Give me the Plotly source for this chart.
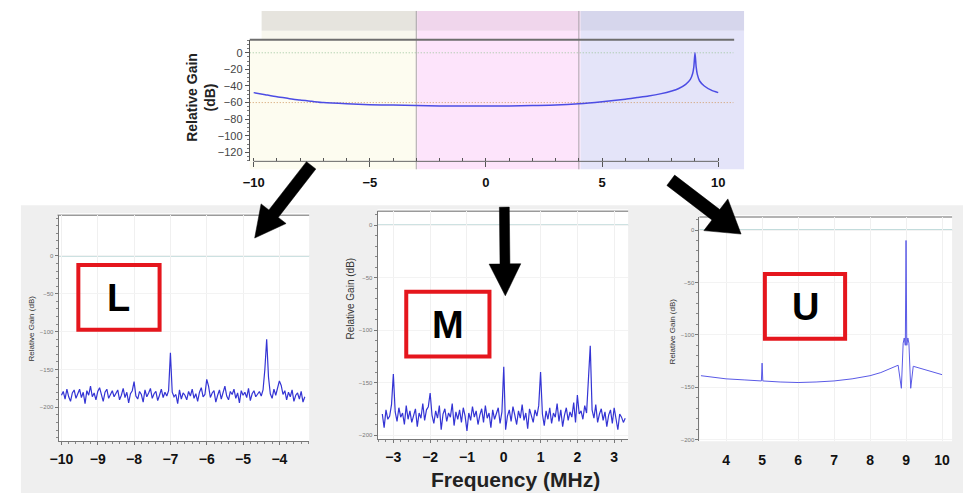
import numpy as np
import plotly.graph_objects as go

W, H = 963, 495
FONT = "Liberation Sans, Arial, sans-serif"

# ---------------- data ----------------
# Top overview: relative gain (dB) across -10..10 MHz
top_freq = [-10, -9.5, -9, -8.5, -8, -7.5, -7, -6, -5, -4, -3, -2, -1, 0, 1, 2, 3, 4, 5, 6, 6.5,
            7, 7.5, 8, 8.3, 8.6, 8.8, 8.9, 8.95, 9.0, 9.05, 9.1, 9.2, 9.4, 9.7, 10]
top_gain = [-48, -50.5, -53, -55, -57, -58.5, -60, -61.5, -62.5, -63, -63.5, -64, -64, -64, -64,
            -63.5, -63, -61.5, -59, -56, -54, -52, -49.5, -46, -43, -38, -32, -25, -17, 0, -17,
            -26, -34, -40, -45, -48]
top_ticks = [-10, -5, 0, 5, 10]
band_edges = [-3, 4]  # L | M | U boundaries (MHz)

# Lower band (L): -10 .. -3.3 MHz, bins of 0.05 MHz
L_start, L_step = -10.0, 0.05
L_gain = [
    -184, -179, -189, -176, -186, -192, -181, -177, -188, -183,
    -176, -187, -180, -195, -178, -184, -172, -186, -181, -190,
    -179, -174, -185, -192, -180, -176, -188, -183, -178, -186,
    -181, -177, -190, -184, -175, -187, -180, -194, -182, -178,
    -166, -185, -189, -179, -183, -193, -177, -186, -181, -175,
    -188, -182, -179, -191, -184, -176, -187, -180, -185, -178,
    -128, -180, -186, -183, -195, -177, -189, -181, -184, -190,
    -179, -185, -176, -188, -182, -192, -180, -174, -186, -183,
    -163, -172, -187, -181, -178, -193, -184, -177, -189, -180,
    -172, -185, -190, -179, -183, -176, -188, -181, -194, -178,
    -184, -180, -187, -175, -191, -182, -178, -186, -183, -179,
    -185, -177, -150, -110, -160, -182, -188, -176, -184, -174,
    -165, -171, -183, -178, -190, -180, -186, -177, -192, -184,
    -181, -189, -179, -193, -186,
]
L_ticks = [-10, -9, -8, -7, -6, -5, -4]

# Middle band (M): -3.3 .. 3.3 MHz, bins of 0.05 MHz
M_start, M_step = -3.3, 0.05
M_gain = [
    -180, -193, -176, -185, -182, -171, -142, -178, -187, -174,
    -183, -179, -190, -172, -185, -177, -188, -181, -175, -192,
    -179, -184, -170, -186, -176, -173, -160, -181, -189, -177,
    -184, -172, -195, -180, -175, -187, -179, -183, -170, -191,
    -178, -185, -176, -188, -174, -182, -196, -179, -186, -173,
    -183, -177, -190, -181, -175, -188, -172, -184, -179, -193,
    -176, -185, -180, -174, -189, -178, -135, -195, -182, -176,
    -187, -173, -181, -190, -177, -184, -171, -186, -179, -194,
    -175, -183, -188, -176, -182, -172, -140, -180, -191, -177,
    -185, -174, -189, -179, -183, -170, -187, -176, -192, -181,
    -174, -186, -178, -183, -169, -188, -162, -180, -177, -185,
    -172, -179, -150, -115, -176, -184, -171, -188, -180, -175,
    -186, -178, -192, -181, -176, -189, -174, -185, -195, -180,
    -183, -188, -184,
]
M_ticks = [-3, -2, -1, 0, 1, 2, 3]

# Upper band (U): 3.3 .. 10 MHz
U_freq = [3.3, 3.5, 4.0, 4.5, 4.98, 5.0, 5.02, 5.5, 6.0, 6.5, 7.0, 7.5, 8.0, 8.3, 8.6, 8.78,
          8.87, 8.92, 8.95, 8.98, 9.0, 9.02, 9.05, 9.08, 9.13, 9.2, 9.5, 10.0]
U_gain = [-139, -140, -142, -143, -144, -127, -144, -145, -145.5, -145, -144, -142, -139, -136,
          -132, -129, -151, -108, -103, -110, -10, -110, -103, -108, -151, -130, -133, -138]
U_ticks = [4, 5, 6, 7, 8, 9, 10]

low_yticks = [0, -50, -100, -150, -200]

L_freq = np.round(L_start + L_step * np.arange(len(L_gain)), 3)
M_freq = np.round(M_start + M_step * np.arange(len(M_gain)), 3)


# ---------------- helpers ----------------
def px(x):
    return x / W


def py(y):
    return 1 - y / H


def rect(x0, y0, x1, y1, fill, line=None, lw=0, layer="below"):
    return dict(type="rect", xref="paper", yref="paper", x0=px(x0), x1=px(x1), y0=py(y1), y1=py(y0),
                fillcolor=fill, line=dict(color=line or "rgba(0,0,0,0)", width=lw), layer=layer)


def pline(x0, y0, x1, y1, color, width=1, dash=None, layer="below"):
    return dict(type="line", xref="paper", yref="paper", x0=px(x0), x1=px(x1), y0=py(y0), y1=py(y1),
                line=dict(color=color, width=width, dash=dash), layer=layer)


def arrow(x0, y0, x1, y1, sw, hl, hw):
    d = np.array([x1 - x0, y1 - y0], float)
    L = np.hypot(*d)
    u = d / L
    n = np.array([-u[1], u[0]])
    t = np.array([x0, y0], float)
    tip = np.array([x1, y1], float)
    b = tip - u * hl
    pts = [t + n * sw / 2, b + n * sw / 2, b + n * hw, tip, b - n * hw, b - n * sw / 2, t - n * sw / 2]
    path = "M " + " L ".join(f"{px(p[0]):.5f},{py(p[1]):.5f}" for p in pts) + " Z"
    return dict(type="path", xref="paper", yref="paper", path=path, fillcolor="black",
                line=dict(color="black", width=0.5), layer="above")


fig = go.Figure()
blue = "#3434d4"
fig.add_trace(go.Scatter(x=top_freq, y=top_gain, mode="lines",
                         line=dict(color="#4c4ce4", width=1.5, shape="spline", smoothing=0.6),
                         xaxis="x", yaxis="y", hoverinfo="skip"))
fig.add_trace(go.Scatter(x=L_freq, y=L_gain, mode="lines", line=dict(color=blue, width=1.2),
                         xaxis="x2", yaxis="y2", hoverinfo="skip"))
fig.add_trace(go.Scatter(x=M_freq, y=M_gain, mode="lines", line=dict(color=blue, width=1.2),
                         xaxis="x3", yaxis="y3", hoverinfo="skip"))
fig.add_trace(go.Scatter(x=U_freq, y=U_gain, mode="lines", line=dict(color="#5a5ae6", width=1),
                         xaxis="x4", yaxis="y4", hoverinfo="skip"))

bold_tick = dict(family=FONT, size=14, color="#111", weight="bold")
small_tick = dict(family=FONT, size=6, color="#777")

# top axes
layout_axes = dict(
    xaxis=dict(domain=[px(243), px(741)], range=[-10.17, 11.07], anchor="y", showgrid=False,
               zeroline=False, showline=False, tickvals=top_ticks, ticks="outside", ticklen=5,
               tickcolor="#555", tickfont=dict(family=FONT, size=13, color="#111", weight="bold"),
               ticklabelstandoff=4,
               minor=dict(tickvals=list(range(-10, 11)), ticks="inside", ticklen=3, tickcolor="#555")),
    yaxis=dict(domain=[py(162), py(40)], range=[-130.8, 15.6], anchor="x", showgrid=False,
               zeroline=False, showline=True, linecolor="#555", dtick=20, tick0=0,
               ticks="outside", ticklen=4, tickcolor="#555",
               tickfont=dict(family=FONT, size=11, color="#444"),
               minor=dict(dtick=5, ticks="outside", ticklen=2, tickcolor="#777")),
)


def low_axes(xd, yd, xr, yr, ticks, showx=True, standoff=2):
    xa = dict(domain=xd, range=xr, showgrid=True, gridcolor="#f0f0f0", zeroline=False,
              showline=showx, linecolor="#777", tickvals=ticks,
              ticks="outside" if showx else "", ticklen=3, tickcolor="#777",
              tickfont=bold_tick, ticklabelstandoff=standoff)
    if showx:
        xa["minor"] = dict(dtick=0.2, ticks="outside", ticklen=2, tickcolor="#888", showgrid=False)
    ya = dict(domain=yd, range=yr, showgrid=True, gridcolor="#f3f3f3", zeroline=False,
              showline=True, linecolor="#777", tickvals=low_yticks, ticks="outside", ticklen=3,
              tickcolor="#777", tickfont=small_tick,
              minor=dict(dtick=10, ticks="outside", ticklen=2, tickcolor="#888", showgrid=False))
    return xa, ya


x2, y2 = low_axes([px(50), px(303)], [py(443), py(216)], [-10.08, -3.18], [-244.7, 53.9], L_ticks)
x3, y3 = low_axes([px(372), px(625)], [py(441), py(212)], [-3.43, 3.38], [-204, 13.3], M_ticks)
x4, y4 = low_axes([px(697), px(952)], [py(443), py(218)], [3.26, 10.28], [-201.5, 12.3], U_ticks,
                  showx=False, standoff=9)
x2.update(anchor="y2"); y2.update(anchor="x2")
x3.update(anchor="y3"); y3.update(anchor="x3")
x4.update(anchor="y4"); y4.update(anchor="x4")
layout_axes.update(xaxis2=x2, yaxis2=y2, xaxis3=x3, yaxis3=y3, xaxis4=x4, yaxis4=y4)

shapes = []
# bottom grey backdrop and white plot areas
shapes.append(rect(12, 206, 963, 495, "#efefef"))
shapes.append(rect(50, 214, 303, 443, "white"))
shapes.append(rect(372, 210, 625, 441, "white"))
shapes.append(rect(697, 216, 952, 443, "white"))
# top line of each lower panel
shapes.append(pline(49, 216, 303, 216, "#9a9a9a", 1.5))
shapes.append(pline(372, 212, 625, 212, "#9a9a9a", 1.5))
shapes.append(pline(697, 218, 952, 218, "#9a9a9a", 1.5))

# top shaded bands
shapes.append(rect(243, 40, 412, 170, "#fdfcf0"))
shapes.append(rect(412, 31, 577, 170, "#fde4fb"))
shapes.append(rect(577, 31, 742, 170, "#e4e4f9"))
shapes.append(rect(255, 31, 412, 40, "#f8f7ee"))
shapes.append(rect(255, 11, 412, 31, "#e6e4de"))
shapes.append(rect(412, 11, 577, 31, "#f0d6ec"))
shapes.append(rect(577, 11, 742, 31, "#d6d6ec"))
for xe in band_edges:
    shapes.append(dict(type="line", xref="x", yref="paper", x0=xe, x1=xe, y0=py(170), y1=py(11),
                       line=dict(color="#aaa2aa", width=1), layer="below"))
shapes.append(pline(243, 40, 732, 40, "#6e6e6e", 2))
# reference lines in top chart
shapes.append(dict(type="line", xref="x", yref="y", x0=-10.17, x1=10.65, y0=0, y1=0,
                   line=dict(color="#9cc49c", width=1, dash="1px,2px"), layer="below"))
shapes.append(dict(type="line", xref="x", yref="y", x0=-10.17, x1=10.65, y0=-60, y1=-60,
                   line=dict(color="#d09a66", width=1, dash="1px,2px"), layer="below"))
# top x axis line (from -10 to 10)
shapes.append(dict(type="line", xref="x", yref="y domain", x0=-10, x1=10, y0=0, y1=0,
                   line=dict(color="#666", width=1), layer="above"))
# zero lines in lower panels
for xa, ya in (("x2", "y2"), ("x3", "y3"), ("x4", "y4")):
    shapes.append(dict(type="line", xref=f"{xa} domain", yref=ya, x0=0, x1=1, y0=0, y1=0,
                       line=dict(color="#86b8b8", width=1), layer="below"))

# red label boxes
for (a, b, c, d) in ((70, 266, 152, 331), (401, 293, 485, 358), (763, 275, 844, 340)):
    shapes.append(rect(a, b, c, d, "rgba(0,0,0,0)", "#e5161d", 4, layer="above"))

# arrows
shapes.append(arrow(305, 166, 248, 239, 12, 31, 16))
shapes.append(arrow(500, 208, 501, 297, 10, 32, 16))
shapes.append(arrow(668, 181, 739, 235, 13, 32, 20))

annotations = []


def ann(x, y, text, size, color="#111", weight="normal", angle=0):
    annotations.append(dict(xref="paper", yref="paper", x=px(x), y=py(y), text=text, showarrow=False,
                            xanchor="center", yanchor="middle", textangle=angle,
                            font=dict(family=FONT, size=size, color=color, weight=weight)))


ann(193, 98, "Relative Gain<br>(dB)", 14, "#222", "bold", angle=-90)
ann(23, 330, "Relative Gain (dB)", 8, "#333", angle=-90)
ann(345, 300, "Relative Gain (dB)", 10, "#333", angle=-90)
ann(670, 333, "Relative Gain (dB)", 8, "#333", angle=-90)
ann(111, 299, "L", 38, "black", "bold")
ann(443, 326, "M", 38, "black", "bold")
ann(804, 308, "U", 38, "black", "bold")
ann(511, 481, "Frequency (MHz)", 21, "#222", "bold")

fig.update_layout(width=W, height=H, margin=dict(l=0, r=0, t=0, b=0), paper_bgcolor="white",
                  plot_bgcolor="rgba(0,0,0,0)", showlegend=False, shapes=shapes,
                  annotations=annotations, **layout_axes)

fig.write_html("out.html", config={"displayModeBar": False},
               post_script="document.body.style.margin='0';document.body.style.overflow='hidden';")
